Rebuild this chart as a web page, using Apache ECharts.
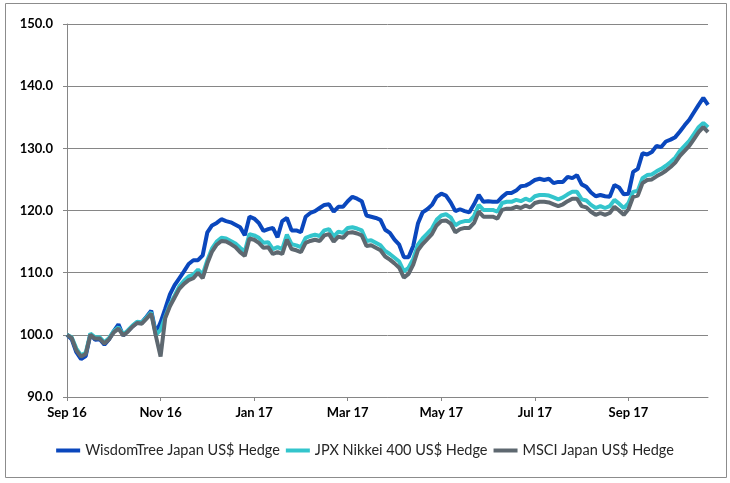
<!DOCTYPE html>
<html>
<head>
<meta charset="utf-8">
<script src="https://cdn.jsdelivr.net/npm/echarts@6/dist/echarts.min.js"></script>
<style>
  html, body { margin: 0; padding: 0; background: #fff; }
  #chart { width: 730px; height: 483px; }
</style>
</head>
<body>
<div id="chart"></div>
<script>
// month labels shown every 20 points along the x axis
var tickLabels = ['Sep 16', 'Nov 16', 'Jan 17', 'Mar 17', 'May 17', 'Jul 17', 'Sep 17'];
var seriesNames = ['WisdomTree Japan US$ Hedge', 'JPX Nikkei 400 US$ Hedge', 'MSCI Japan US$ Hedge'];

// values, one every ~3 days from end Sep 2016 to end Oct 2017
var wisdomTree = [
  100.0, 99.3, 97.2, 96.1, 96.6, 100.1, 99.2, 99.3, 98.4, 99.3,
  100.6, 101.7, 99.9, 100.6, 101.4, 102.0, 102.0, 102.9, 103.9, 100.3,
  102.0, 104.2, 106.5, 108.0, 109.1, 110.2, 111.4, 112.0, 112.0, 112.8,
  116.5, 117.6, 118.0, 118.6, 118.3, 118.1, 117.7, 117.3, 116.0, 119.0,
  118.7, 118.0, 116.7, 117.0, 117.2, 115.7, 118.3, 118.8, 116.8, 116.8,
  116.5, 119.0, 119.6, 119.9, 120.4, 120.9, 121.0, 119.8, 120.6, 120.6,
  121.5, 122.2, 121.9, 121.5, 119.2, 119.0, 118.8, 118.5, 116.9, 116.4,
  115.3, 114.5, 112.5, 112.5, 114.3, 117.9, 119.7, 120.2, 120.9, 122.2,
  122.7, 122.4, 121.3, 119.9, 120.2, 119.9, 119.7, 121.0, 122.5, 121.4,
  121.5, 121.4, 121.4, 122.2, 122.8, 122.8, 123.2, 123.9, 124.0, 124.4,
  124.9, 125.1, 124.9, 125.1, 124.4, 124.6, 124.6, 125.4, 125.2, 125.7,
  124.2, 123.8, 122.9, 122.3, 122.5, 122.3, 122.2, 124.1, 123.7, 122.6,
  122.7, 126.2, 126.7, 129.2, 129.0, 129.4, 130.4, 130.2, 131.1, 131.4,
  131.8, 132.7, 133.7, 134.6, 135.8, 137.0, 138.1, 137.0
];
var jpxNikkei = [
  100.0, 99.6, 97.8, 96.7, 97.1, 100.2, 99.6, 99.6, 98.8, 99.5,
  100.6, 101.2, 100.1, 100.7, 101.5, 102.1, 102.0, 102.8, 103.6, 100.0,
  100.8, 102.9, 104.9, 106.3, 107.8, 108.7, 109.4, 109.7, 110.5, 109.7,
  112.0, 113.9, 115.0, 115.6, 115.5, 115.1, 114.7, 114.0, 113.4, 116.2,
  116.0, 115.6, 114.8, 114.9, 113.8, 114.1, 113.8, 116.1, 114.6, 114.4,
  114.1, 115.6, 115.9, 116.1, 115.9, 116.8, 117.0, 115.8, 116.6, 116.4,
  117.2, 117.3, 117.1, 116.8, 115.1, 115.2, 114.8, 114.4, 113.5, 113.0,
  112.4, 111.8, 110.2, 110.8, 112.2, 114.5, 115.5, 116.3, 117.1, 118.5,
  119.2, 119.4, 118.9, 117.6, 118.1, 118.3, 118.3, 119.1, 120.9, 120.1,
  120.1, 120.1, 119.8, 121.2, 121.4, 121.4, 121.7, 121.5, 121.9, 121.6,
  122.3, 122.5, 122.5, 122.4, 122.1, 121.8, 122.1, 122.6, 123.0, 123.0,
  121.8, 121.6, 120.9, 120.4, 120.7, 120.4, 120.7, 121.7, 121.1, 120.4,
  121.2, 123.0, 123.2, 125.2, 125.7, 125.8, 126.3, 126.7, 127.2, 127.8,
  128.5, 129.6, 130.4, 131.2, 132.3, 133.4, 134.1, 133.4
];
var msciJapan = [
  100.0, 99.5, 97.5, 96.5, 96.9, 100.0, 99.4, 99.4, 98.6, 99.3,
  100.4, 101.0, 99.9, 100.5, 101.3, 101.9, 101.8, 102.6, 103.4, 99.8,
  96.5, 102.7, 104.6, 106.0, 107.4, 108.2, 108.8, 109.1, 110.0, 109.1,
  111.5, 113.4, 114.5, 115.1, 115.0, 114.6, 114.1, 113.3, 112.7, 115.5,
  115.3, 114.8, 114.0, 114.1, 113.0, 113.3, 113.0, 115.3, 113.8, 113.6,
  113.3, 114.8, 115.1, 115.3, 115.1, 116.0, 116.2, 115.0, 115.8, 115.6,
  116.4, 116.5, 116.3, 116.0, 114.3, 114.4, 114.0, 113.6, 112.6, 112.1,
  111.5, 110.8, 109.2, 109.8, 111.3, 113.6, 114.6, 115.4, 116.2, 117.6,
  118.3, 118.4, 117.9, 116.5, 117.0, 117.2, 117.2, 118.0, 119.8, 119.0,
  119.0, 119.0, 118.7, 120.1, 120.3, 120.3, 120.6, 120.4, 120.8, 120.5,
  121.2, 121.4, 121.4, 121.3, 121.0, 120.7, 121.0, 121.5, 121.9, 121.9,
  120.7, 120.5, 119.8, 119.3, 119.6, 119.3, 119.6, 120.6, 120.0, 119.3,
  120.2, 122.2, 122.4, 124.4, 124.9, 125.0, 125.5, 125.9, 126.4, 127.0,
  127.7, 128.8, 129.6, 130.4, 131.5, 132.6, 133.4, 132.6
];

var categories = [];
for (var i = 0; i < wisdomTree.length; i++) {
  categories.push(i);
}

var chart = echarts.init(document.getElementById('chart'));
var font = 'Lato, "Open Sans", sans-serif';

function line(name, data, color) {
  return {
    name: name,
    type: 'line',
    data: data,
    symbol: 'none',
    lineStyle: { width: 4, color: color },
    itemStyle: { color: color }
  };
}

chart.setOption({
  backgroundColor: '#fff',
  animation: false,
  graphic: [{
    type: 'rect',
    shape: { x: 5.5, y: 3.5, width: 721, height: 474 },
    style: { fill: 'none', stroke: '#8c8c8c', lineWidth: 1 }
  }],
  grid: { left: 67, right: 22, top: 24, bottom: 86 },
  legend: {
    bottom: 20,
    left: 'center',
    itemWidth: 24,
    itemHeight: 4,
    itemGap: 6,
    icon: 'rect',
    textStyle: { fontFamily: font, fontSize: 14.5, color: '#262626' },
    data: seriesNames
  },
  xAxis: {
    type: 'category',
    data: categories,
    boundaryGap: false,
    axisLine: { lineStyle: { color: '#868686', width: 1 } },
    axisTick: { show: true, interval: 19, length: 4, lineStyle: { color: '#868686' } },
    axisLabel: {
      interval: 19,
      margin: 9,
      fontFamily: font,
      fontSize: 13,
      fontWeight: 'bold',
      color: '#000',
      formatter: function (v, idx) { return tickLabels[idx / 20] || ''; }
    },
    splitLine: { show: false }
  },
  yAxis: {
    type: 'value',
    min: 90,
    max: 150,
    interval: 10,
    axisLine: { show: true, lineStyle: { color: '#868686', width: 1 } },
    axisTick: { show: true, length: 4, lineStyle: { color: '#868686' } },
    axisLabel: {
      margin: 14,
      fontFamily: font,
      fontSize: 13,
      fontWeight: 'bold',
      color: '#000',
      formatter: function (v) { return v.toFixed(1); }
    },
    splitLine: { lineStyle: { color: '#868686', width: 1 } }
  },
  series: [
    line(seriesNames[0], wisdomTree, '#0A47BD'),
    line(seriesNames[1], jpxNikkei, '#33C5CC'),
    line(seriesNames[2], msciJapan, '#5E6870')
  ]
});
</script>
</body>
</html>
